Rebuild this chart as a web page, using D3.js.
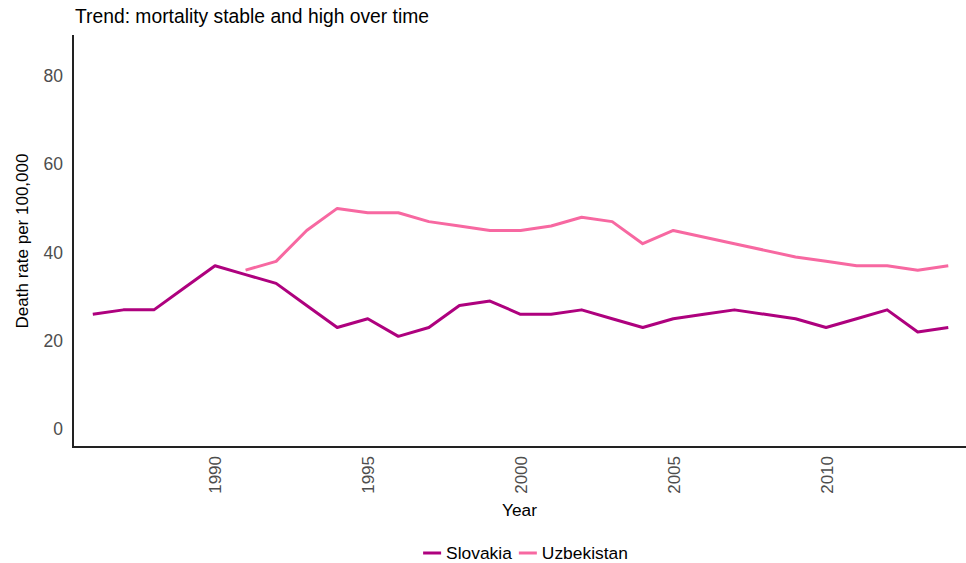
<!DOCTYPE html>
<html>
<head>
<meta charset="utf-8">
<script src="https://cdn.jsdelivr.net/npm/d3@7"></script>
<style>
  html, body { margin: 0; padding: 0; background: #ffffff; }
  svg { display: block; font-family: "Liberation Sans", Arial, sans-serif; }
</style>
</head>
<body>
<svg id="chart" width="966" height="563"></svg>
<script>
// Death rate per 100,000 by year
const yearsSlovakia = [1986, 1987, 1988, 1989, 1990, 1991, 1992, 1993, 1994, 1995, 1996, 1997, 1998, 1999,
                       2000, 2001, 2002, 2003, 2004, 2005, 2006, 2007, 2008, 2009, 2010, 2011, 2012, 2013, 2014];
const valuesSlovakia = [26, 27, 27, 32, 37, 35, 33, 28, 23, 25, 21, 23, 28, 29,
                        26, 26, 27, 25, 23, 25, 26, 27, 26, 25, 23, 25, 27, 22, 23];

const yearsUzbekistan = [1991, 1992, 1993, 1994, 1995, 1996, 1997, 1998, 1999, 2000, 2001, 2002, 2003, 2004,
                         2005, 2007, 2009, 2010, 2011, 2012, 2013, 2014];
const valuesUzbekistan = [36, 38, 45, 50, 49, 49, 47, 46, 45, 45, 46, 48, 47, 42,
                          45, 42, 39, 38, 37, 37, 36, 37];

const seriesNames = ["Slovakia", "Uzbekistan"];
const seriesColors = ["#AE017E", "#F768A1"];

const xTicks = [1990, 1995, 2000, 2005, 2010];
const yTicks = [0, 20, 40, 60, 80];

const titleText = "Trend: mortality stable and high over time";
const xTitle = "Year";
const yTitle = "Death rate per 100,000";

const series = [
  { name: seriesNames[0], color: seriesColors[0],
    points: yearsSlovakia.map((y, i) => ({ year: y, value: valuesSlovakia[i] })) },
  { name: seriesNames[1], color: seriesColors[1],
    points: yearsUzbekistan.map((y, i) => ({ year: y, value: valuesUzbekistan[i] })) }
];

const svg = d3.select("#chart");
const panel = { left: 73, right: 966, top: 35, bottom: 447 };

const x = d3.scaleLinear().domain([1985.352, 2014.58]).range([panel.left, panel.right]);
const y = d3.scaleLinear().domain([-4.08, 89.3]).range([panel.bottom, panel.top]);

// Title
svg.append("text")
  .attr("x", 75).attr("y", 23)
  .attr("font-size", 19.3)
  .attr("fill", "#000")
  .text(titleText);

// Lines
const line = d3.line().x(d => x(d.year)).y(d => y(d.value));
svg.append("g").selectAll("path")
  .data(series)
  .join("path")
  .attr("fill", "none")
  .attr("stroke", d => d.color)
  .attr("stroke-width", 3)
  .attr("stroke-linejoin", "round")
  .attr("d", d => line(d.points));

// Y axis
const yAxis = svg.append("g")
  .attr("transform", `translate(${panel.left},0)`)
  .call(d3.axisLeft(y).tickValues(yTicks).tickSize(0).tickPadding(10));
yAxis.select(".domain").attr("stroke", "#222").attr("stroke-width", 2)
  .attr("d", `M0,${panel.top}V${panel.bottom}`);
yAxis.selectAll("text")
  .attr("font-family", "Liberation Sans, Arial, sans-serif")
  .attr("font-size", 17.5).attr("fill", "#4d4d4d");

// X axis
const xAxis = svg.append("g")
  .attr("transform", `translate(0,${panel.bottom})`)
  .call(d3.axisBottom(x).tickValues(xTicks).tickFormat(d3.format("d")).tickSize(0));
xAxis.select(".domain").attr("stroke", "#222").attr("stroke-width", 2)
  .attr("d", `M${panel.left - 1},0H${panel.right}`);
xAxis.selectAll("text")
  .attr("font-family", "Liberation Sans, Arial, sans-serif")
  .attr("font-size", 17).attr("fill", "#4d4d4d")
  .attr("transform", "rotate(-90)")
  .attr("text-anchor", "end")
  .attr("x", -9).attr("y", 0).attr("dy", "0.35em");

// Axis titles
svg.append("text")
  .attr("x", (panel.left + panel.right) / 2).attr("y", 516)
  .attr("text-anchor", "middle").attr("font-size", 17.3).attr("fill", "#000")
  .text(xTitle);
svg.append("text")
  .attr("transform", `translate(28,${(panel.top + panel.bottom) / 2}) rotate(-90)`)
  .attr("text-anchor", "middle").attr("font-size", 17).attr("fill", "#000")
  .text(yTitle);

// Legend
const legend = svg.append("g");
let cursor = 0;
series.forEach((s, i) => {
  const g = legend.append("g").attr("transform", `translate(${cursor},0)`);
  g.append("line").attr("x1", 0).attr("x2", 18).attr("y1", 0).attr("y2", 0)
    .attr("stroke", s.color).attr("stroke-width", 3);
  const t = g.append("text").attr("x", 23).attr("y", 6.3)
    .attr("font-size", 17.4).attr("fill", "#000").text(s.name);
  cursor += 23 + t.node().getComputedTextLength() + 7;
});
const legendWidth = cursor - 7;
legend.attr("transform", `translate(${525.5 - legendWidth / 2},553)`);
</script>
</body>
</html>
